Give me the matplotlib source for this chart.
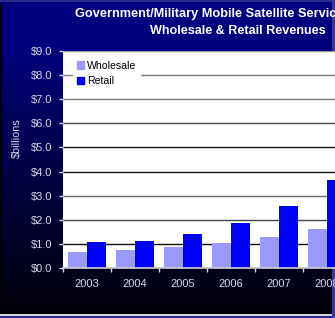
import numpy as np
import matplotlib
matplotlib.use("Agg")
import matplotlib.pyplot as plt
from matplotlib.patches import Patch, Rectangle

# data
years = ["2003", "2004", "2005", "2006", "2007", "2008"]
wholesale = [0.67, 0.75, 0.87, 1.04, 1.29, 1.62]
retail = [1.08, 1.12, 1.41, 1.87, 2.57, 3.65]
y_ticks = [0, 1, 2, 3, 4, 5, 6, 7, 8, 9]
title_1 = "Government/Military Mobile Satellite Services"
title_2 = "Wholesale & Retail Revenues"

W, H = 335, 318
plt.rcParams['font.family'] = ['Liberation Sans', 'DejaVu Sans']

fig = plt.figure(figsize=(W / 100, H / 100), dpi=100)


def px(x, y):
    """ pixel (from top-left) to figure fraction """
    return x / W, 1 - y / H


# background gradient navy -> black
bg = fig.add_axes([0, 0, 1, 1], zorder=0)
bg.set_axis_off()
t = np.linspace(0, 1, H)
frac = np.clip((t - 0.15) / 0.85, 0, 1) ** 0.9
blue = 0.50 * (1 - frac) + 0.03 * frac
grad = np.zeros((H, 1, 3))
grad[:, 0, 2] = blue
bg.imshow(grad, aspect='auto', extent=[0, 1, 0, 1], origin='upper')
bg.set_xlim(0, 1)
bg.set_ylim(0, 1)

# borders
bg.add_patch(Rectangle((0, 1 - 2 / H), 1, 2 / H, color='#2c2c8e', lw=0))
bg.add_patch(Rectangle((0, 0), 2 / W, 1 - 4 / H, color='#000000', lw=0))
bg.add_patch(Rectangle((1 - 3 / W, 0), 3 / W, 1, color='#3535a5', lw=0))
bg.add_patch(Rectangle((0, 2 / H), 1 - 3 / W, 2 / H, color='#d4d4d4', lw=0))
bg.add_patch(Rectangle((0, 0), 1 - 3 / W, 2 / H, color='#2c2c8e', lw=0))

# main plot area (runs past the right edge like the cropped original)
left, top = px(63, 51)
right, bottom = px(351, 268)
ax = fig.add_axes([left, bottom, right - left, top - bottom], zorder=1)
ax.set_facecolor('white')

x = np.arange(len(years))
width = 0.4
ax.bar(x - width / 2, wholesale, width, color='#9999ff', label='Wholesale', zorder=3)
ax.bar(x + width / 2, retail, width, color='#0000ff', label='Retail', zorder=3)

ax.set_xlim(-0.5, len(years) - 0.5)
ax.set_ylim(0, 9)

ax.set_yticks(y_ticks)
ax.set_yticklabels(['${:.1f}'.format(v) for v in y_ticks])
ax.yaxis.grid(True, lw=1.0, zorder=1)
grid_colors = ['#000000', '#111111', '#444444', '#666666', '#111111',
               '#111111', '#444444', '#777777', '#777777', '#999999']
for line, c in zip(ax.get_ygridlines(), grid_colors):
    line.set_color(c)

ax.set_xticks(np.arange(len(years) + 1) - 0.5)
ax.set_xticklabels([])
ax.set_xticks(x, minor=True)
ax.set_xticklabels(years, minor=True)

label_color = '#d8d8e8'
ax.tick_params(axis='y', colors=label_color, labelsize=8, length=3, width=1, pad=5)
ax.tick_params(axis='x', which='major', colors=label_color, length=3, width=1)
ax.tick_params(axis='x', which='minor', colors=label_color, labelsize=8, length=0, pad=8)

for side in ['top', 'right', 'left']:
    ax.spines[side].set_visible(False)
ax.spines['bottom'].set_color('#cfcfd8')
ax.spines['bottom'].set_linewidth(1.2)
ax.spines['bottom'].set_zorder(4)

handles = [Patch(color='#9999ff', label='Wholesale'), Patch(color='#0000ff', label='Retail')]
leg = ax.legend(handles=handles, loc='upper left', bbox_to_anchor=px(73, 57),
                bbox_transform=fig.transFigure, frameon=True, fancybox=False,
                facecolor='white', edgecolor='white', framealpha=1,
                fontsize=7.6, handlelength=0.7, handleheight=0.7,
                handletextpad=0.3, labelspacing=0.5, borderpad=0.35,
                borderaxespad=0)
leg.set_zorder(5)

# titles and y label
fig.text(*px(75, 14.5), title_1, color='white', fontsize=9.2, fontweight='bold',
         ha='left', va='center', zorder=2)
fig.text(*px(150, 31.5), title_2, color='white', fontsize=9.1, fontweight='bold',
         ha='left', va='center', zorder=2)
fig.text(*px(17, 138), '$billions', color=label_color, fontsize=7.8,
         rotation=90, ha='center', va='center', zorder=2)

fig.savefig('out.png', dpi=100)
